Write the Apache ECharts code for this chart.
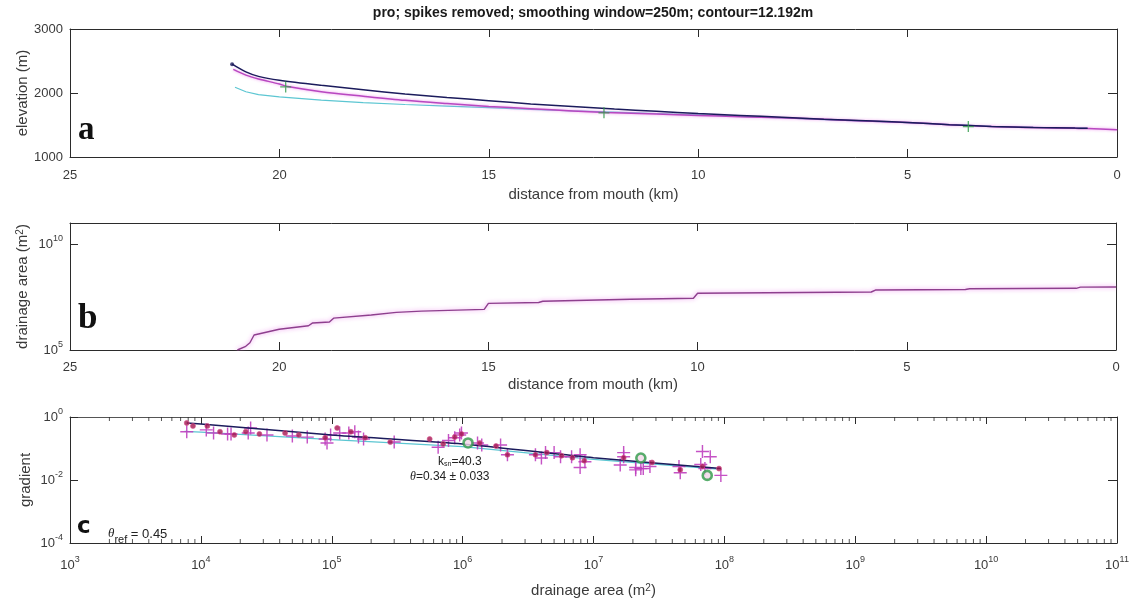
<!DOCTYPE html>
<html>
<head>
    <meta charset="utf-8" />
    <title>pro profile</title>
    <script src="https://cdn.jsdelivr.net/npm/echarts@6/dist/echarts.min.js"></script>
    <style>
        body { margin: 0; background: #fff; }
        #main { width: 1134px; height: 599px; }
    </style>
</head>
<body>
<div id="main"></div>
<script>
    // panel a - elevation vs distance from mouth
    let navyDist = [21.13, 20.8, 20.5, 20, 19, 18, 17, 16, 15, 14, 13, 12, 11, 10, 9, 8, 7, 6, 5, 4, 3, 2, 1, 0.7]
    let navyElev = [2450, 2330, 2260, 2200, 2120, 2050, 1985, 1930, 1880, 1830, 1790, 1750, 1715, 1680, 1650, 1620, 1590, 1565, 1540, 1505, 1478, 1462, 1452, 1450]
    let magDist = [21.1, 20.8, 20.5, 20, 19.8, 19, 18, 17, 16, 15, 14, 13, 12.2, 11, 10, 9, 8, 7, 6, 5, 4, 3, 2, 1, 0.7, 0]
    let magElev = [2370, 2280, 2220, 2140, 2100, 2020, 1950, 1885, 1835, 1790, 1755, 1720, 1695, 1670, 1650, 1630, 1612, 1588, 1563, 1538, 1505, 1475, 1460, 1448, 1444, 1425]
    let cyanDist = [21.06, 20.8, 20.5, 20, 19, 18, 17, 16, 15, 14, 13, 12, 11, 10, 9, 8, 7, 6, 5, 4, 3, 2, 1, 0.72]
    let cyanElev = [2090, 2020, 1975, 1940, 1890, 1850, 1820, 1795, 1770, 1745, 1720, 1700, 1680, 1660, 1635, 1610, 1585, 1560, 1535, 1505, 1480, 1465, 1452, 1450]
    let knickDist = [19.85, 12.25, 3.55]
    let knickElev = [2095, 1690, 1475]

    // panel b - drainage area vs distance
    let areaDist = [21.0, 20.8, 20.7, 20.6, 20.0, 19.3, 19.2, 18.8, 18.7, 17.8, 17.2, 16.6, 15.1, 15.0, 13.8, 13.7, 11.6, 10.1, 10.0, 5.85, 5.75, 3.6, 3.5, 0.95, 0.85, 0]
    let areaVal = [1.0e5, 1.5e5, 2.2e5, 5.1e5, 9.5e5, 1.4e6, 1.9e6, 2.1e6, 3.2e6, 4.5e6, 6.0e6, 6.9e6, 8.3e6, 1.6e7, 1.75e7, 2.0e7, 2.5e7, 2.8e7, 4.8e7, 5.5e7, 6.8e7, 7.2e7, 7.8e7, 8.2e7, 9.3e7, 9.5e7]

    // panel c - slope-area
    let fitArea = [7.8e3, 1e4, 1e5, 1e6, 1e7, 9.4e7]
    let fitGrad = [0.65, 0.6, 0.27, 0.14, 0.051, 0.023]
    let refArea = [7.5e3, 1e4, 1e5, 1e6, 1e7, 9e7]
    let refGrad = [0.35, 0.33, 0.19, 0.115, 0.045, 0.022]
    let binArea = [7.8e3, 8.7e3, 1.12e4, 1.4e4, 1.8e4, 2.2e4, 2.8e4, 4.4e4, 5.6e4, 8.9e4, 1.1e5, 1.4e5, 1.8e5, 2.8e5, 5.6e5, 7.1e5, 8.7e5, 9.8e5, 1.35e6, 1.8e6, 2.2e6, 3.6e6, 4.4e6, 5.7e6, 6.9e6, 8.5e6, 1.7e7, 2.8e7, 4.6e7, 6.8e7, 9.1e7]
    let binGrad = [0.65, 0.52, 0.52, 0.34, 0.27, 0.34, 0.29, 0.31, 0.27, 0.22, 0.45, 0.34, 0.22, 0.16, 0.2, 0.14, 0.23, 0.29, 0.15, 0.12, 0.063, 0.063, 0.074, 0.059, 0.051, 0.041, 0.051, 0.036, 0.021, 0.027, 0.023]
    let rawArea = [7.8e3, 1.1e4, 1.25e4, 1.6e4, 1.7e4, 2.3e4, 2.4e4, 3.2e4, 5e4, 6.5e4, 8.9e4, 9.2e4, 9.8e4, 1.15e5, 1.35e5, 1.5e5, 1.6e5, 1.75e5, 3.0e5,
        6.5e5, 7.8e5, 8.7e5, 9.5e5, 9.8e5, 1.3e6, 1.4e6, 1.95e6, 2.2e6, 3.6e6, 4e6, 4.3e6, 5e6, 5.6e6, 6.8e6, 7.9e6, 7.9e6, 8.6e6,
        1.7e7, 2.1e7, 2.3e7, 1.7e7, 1.6e7, 2.1e7, 2.4e7, 2.7e7, 4.5e7, 4.6e7, 6.8e7, 7.8e7, 6.6e7, 7.1e7, 9.4e7]
    let rawGrad = [0.34, 0.39, 0.31, 0.29, 0.29, 0.31, 0.45, 0.27, 0.25, 0.23, 0.2, 0.15, 0.27, 0.31, 0.31, 0.34, 0.23, 0.2, 0.16,
        0.11, 0.18, 0.22, 0.27, 0.31, 0.15, 0.13, 0.13, 0.063, 0.063, 0.05, 0.074, 0.074, 0.055, 0.055, 0.063, 0.025, 0.038,
        0.055, 0.025, 0.023, 0.074, 0.03, 0.021, 0.023, 0.027, 0.027, 0.017, 0.08, 0.055, 0.031, 0.023, 0.014]
    let knickArea = [1.1e6, 2.3e7, 7.4e7]
    let knickGrad = [0.15, 0.05, 0.014]

    let areaTicks = [1e5, 1e10]
    let saXTicks = [1e3, 1e4, 1e5, 1e6, 1e7, 1e8, 1e9, 1e10, 1e11]
    let saYTicks = [1e-4, 1e-2, 1]

    let fontMain = 'Liberation Sans, Arial, sans-serif'
    let colAxis = '#2b2b2b'
    let colText = '#3a3a3a'
    let colNavy = '#1b1b5c'
    let colMag = '#b848c0'
    let colCyan = '#5cc6d2'
    let colGreen = '#2f9a48'
    let colPlus = '#bf3fbf'
    let colDot = '#a3164f'

    const pairs = (xs, ys) => xs.map((x, i) => [x, ys[i]])

    const powLabel = (v) => '10{sup|' + Math.round(Math.log10(v)) + '}'

    let minorVals = []
    for (let e = 3; e < 11; e++) {
        for (let m = 2; m <= 9; m++) {
            minorVals.push(m * Math.pow(10, e))
        }
    }

    const lineAxis = (color) => ({ show: true, onZero: false, lineStyle: { color: color, width: 1 } })

    const baseLabel = {
        color: colText,
        fontFamily: fontMain,
        fontSize: 13,
    }
    const supLabel = {
        color: colText,
        fontFamily: fontMain,
        fontSize: 13,
        lineHeight: 20,
        rich: {
            sup: { fontSize: 9, verticalAlign: 'top', lineHeight: 9, color: colText, fontFamily: fontMain }
        }
    }
    const nameStyle = {
        color: colText,
        fontFamily: fontMain,
        fontSize: 15,
        rich: {
            sup: { fontSize: 10, verticalAlign: 'top', lineHeight: 10, color: colText, fontFamily: fontMain }
        }
    }

    const distAxis = (gridIndex, pos, withLabel, gap, margin) => ({
        type: 'value',
        gridIndex: gridIndex,
        position: pos,
        min: 0,
        max: 25,
        interval: 5,
        inverse: true,
        name: withLabel ? 'distance from mouth (km)' : '',
        nameLocation: 'middle',
        nameGap: gap,
        nameMoveOverlap: false,
        nameTextStyle: nameStyle,
        axisLine: lineAxis(colAxis),
        axisTick: { show: true, inside: true, length: 8, lineStyle: { color: colAxis } },
        axisLabel: Object.assign({ show: withLabel, margin: margin }, baseLabel),
        splitLine: { show: false },
    })

    let chart = echarts.init(document.getElementById('main'), null, { renderer: 'canvas' })

    chart.setOption({
        animation: false,
        backgroundColor: '#fff',
        grid: [
            { left: 70, top: 29, width: 1047, height: 128 },
            { left: 70, top: 223, width: 1046, height: 127 },
            { left: 70, top: 417, width: 1047, height: 127 },
        ],
        xAxis: [
            distAxis(0, 'bottom', true, 30, 12),
            distAxis(0, 'top', false, 0, 0),
            distAxis(1, 'bottom', true, 27, 11),
            distAxis(1, 'top', false, 0, 0),
            {
                type: 'log', logBase: 10, gridIndex: 2, position: 'bottom', min: 1e3, max: 1e11,
                name: 'drainage area (m{sup|2})', nameLocation: 'middle', nameGap: 40, nameMoveOverlap: false, nameTextStyle: nameStyle,
                axisLine: lineAxis(colAxis),
                axisTick: { show: true, inside: true, length: 7, customValues: saXTicks, lineStyle: { color: colAxis } },
                axisLabel: Object.assign({ margin: 12, customValues: saXTicks, formatter: powLabel }, supLabel),
                splitLine: { show: false },
            },
            {
                type: 'log', logBase: 10, gridIndex: 2, position: 'top', min: 1e3, max: 1e11,
                axisLine: lineAxis('#555'),
                axisTick: { show: true, inside: true, length: 7, customValues: saXTicks, lineStyle: { color: colAxis } },
                axisLabel: { show: false },
                splitLine: { show: false },
            },
        ],
        yAxis: [
            {
                type: 'value', gridIndex: 0, position: 'left', min: 1000, max: 3000, interval: 1000,
                name: 'elevation (m)', nameLocation: 'middle', nameGap: 40, nameMoveOverlap: false, nameTextStyle: nameStyle,
                axisLine: lineAxis(colAxis),
                axisTick: { show: true, inside: true, length: 8, lineStyle: { color: colAxis } },
                axisLabel: Object.assign({ margin: 7, formatter: (v) => String(v) }, baseLabel),
                splitLine: { show: false },
            },
            {
                type: 'value', gridIndex: 0, position: 'right', min: 1000, max: 3000, interval: 1000,
                axisLine: lineAxis(colAxis),
                axisTick: { show: true, inside: true, length: 9, lineStyle: { color: colAxis } },
                axisLabel: { show: false },
                splitLine: { show: false },
            },
            {
                type: 'log', logBase: 10, gridIndex: 1, position: 'left', min: 1e5, max: 1e11,
                name: 'drainage area (m{sup|2})', nameLocation: 'middle', nameGap: 40, nameMoveOverlap: false, nameTextStyle: nameStyle,
                axisLine: lineAxis(colAxis),
                axisTick: { show: true, inside: true, length: 8, customValues: areaTicks, lineStyle: { color: colAxis } },
                axisLabel: Object.assign({ margin: 7, customValues: areaTicks, formatter: powLabel }, supLabel),
                splitLine: { show: false },
            },
            {
                type: 'log', logBase: 10, gridIndex: 1, position: 'right', min: 1e5, max: 1e11,
                axisLine: lineAxis(colAxis),
                axisTick: { show: true, inside: true, length: 9, customValues: areaTicks, lineStyle: { color: colAxis } },
                axisLabel: { show: false },
                splitLine: { show: false },
            },
            {
                type: 'log', logBase: 10, gridIndex: 2, position: 'left', min: 1e-4, max: 1,
                name: 'gradient', nameLocation: 'middle', nameGap: 37, nameMoveOverlap: false, nameTextStyle: nameStyle,
                axisLine: lineAxis(colAxis),
                axisTick: { show: true, inside: true, length: 8, customValues: saYTicks, lineStyle: { color: colAxis } },
                axisLabel: Object.assign({ margin: 7, customValues: saYTicks, formatter: powLabel }, supLabel),
                splitLine: { show: false },
            },
            {
                type: 'log', logBase: 10, gridIndex: 2, position: 'right', min: 1e-4, max: 1,
                axisLine: lineAxis(colAxis),
                axisTick: { show: true, inside: true, length: 9, customValues: saYTicks, lineStyle: { color: colAxis } },
                axisLabel: { show: false },
                splitLine: { show: false },
            },
        ],
        series: [
            // panel a
            {
                type: 'line', xAxisIndex: 0, yAxisIndex: 0, data: pairs(cyanDist, cyanElev),
                showSymbol: false, lineStyle: { color: colCyan, width: 1.2 }, z: 2,
            },
            {
                type: 'line', xAxisIndex: 0, yAxisIndex: 0, data: pairs(magDist, magElev),
                showSymbol: false, smooth: 0.3,
                lineStyle: { color: colMag, width: 1.5, shadowColor: 'rgba(235,130,235,0.9)', shadowBlur: 3 }, z: 3,
            },
            {
                type: 'line', xAxisIndex: 0, yAxisIndex: 0, data: pairs(navyDist, navyElev),
                showSymbol: false, smooth: 0.3, lineStyle: { color: colNavy, width: 1.5 }, z: 4,
            },
            {
                type: 'scatter', xAxisIndex: 0, yAxisIndex: 0, data: [[navyDist[0], navyElev[0]]],
                symbol: 'circle', symbolSize: 4, itemStyle: { color: colNavy }, z: 5,
            },
            {
                type: 'scatter', xAxisIndex: 0, yAxisIndex: 0, data: pairs(knickDist, knickElev),
                symbol: 'path://M4.4,0 H5.6 V4.4 H10 V5.6 H5.6 V10 H4.4 V5.6 H0 V4.4 H4.4 Z',
                symbolSize: 11, itemStyle: { color: colGreen }, z: 6,
            },
            // panel b
            {
                type: 'line', xAxisIndex: 2, yAxisIndex: 2, data: pairs(areaDist, areaVal),
                showSymbol: false,
                lineStyle: { color: '#8e3f8e', width: 1.4, shadowColor: 'rgba(235,130,235,0.95)', shadowBlur: 4 },
            },
            // panel c
            {
                type: 'line', xAxisIndex: 4, yAxisIndex: 4, data: pairs(refArea, refGrad),
                showSymbol: false, lineStyle: { color: colCyan, width: 1.2 }, z: 2,
            },
            {
                type: 'scatter', xAxisIndex: 4, yAxisIndex: 4, data: pairs(rawArea, rawGrad),
                symbol: 'path://M4.45,0 H5.55 V4.45 H10 V5.55 H5.55 V10 H4.45 V5.55 H0 V4.45 H4.45 Z',
                symbolSize: 13, itemStyle: { color: colPlus, opacity: 0.9 }, z: 3,
            },
            {
                type: 'line', xAxisIndex: 4, yAxisIndex: 4, data: pairs(fitArea, fitGrad),
                showSymbol: false, smooth: 0.2, lineStyle: { color: colNavy, width: 1.5 }, z: 4,
            },
            {
                type: 'scatter', xAxisIndex: 4, yAxisIndex: 4, data: pairs(binArea, binGrad),
                symbol: 'circle', symbolSize: 5,
                itemStyle: { color: colDot, borderColor: '#d8508e', borderWidth: 0.8 }, z: 5,
            },
            {
                type: 'scatter', xAxisIndex: 4, yAxisIndex: 4, data: pairs(knickArea, knickGrad),
                symbol: 'circle', symbolSize: 9,
                itemStyle: { color: '#f2d6e8', borderColor: colGreen, borderWidth: 2.6 }, z: 6,
            },
            // minor ticks of the log area axis (top and bottom)
            {
                type: 'scatter', xAxisIndex: 5, yAxisIndex: 5, silent: true, clip: false,
                data: minorVals.map(v => [v, 1]),
                symbol: 'rect', symbolSize: [1, 4], symbolOffset: [0, 2], itemStyle: { color: colAxis },
            },
            {
                type: 'scatter', xAxisIndex: 5, yAxisIndex: 5, silent: true, clip: false,
                data: minorVals.map(v => [v, 1e-4]),
                symbol: 'rect', symbolSize: [1, 4], symbolOffset: [0, -2], itemStyle: { color: colAxis },
            },
        ],
        graphic: [
            {
                type: 'text', x: 593, y: 13,
                style: {
                    text: 'pro; spikes removed; smoothing window=250m; contour=12.192m',
                    font: 'bold 14px Liberation Sans, Arial, sans-serif', fill: '#1a1a1a',
                    align: 'center', verticalAlign: 'middle',
                }
            },
            {
                type: 'text', x: 78, y: 130,
                style: { text: 'a', font: 'bold 33px Liberation Serif, DejaVu Serif, serif', fill: '#111', verticalAlign: 'middle' }
            },
            {
                type: 'text', x: 78, y: 319,
                style: { text: 'b', font: 'bold 35px Liberation Serif, DejaVu Serif, serif', fill: '#111', verticalAlign: 'middle' }
            },
            {
                type: 'text', x: 77, y: 527,
                style: { text: 'c', font: 'bold 23px DejaVu Sans, sans-serif', fill: '#111', verticalAlign: 'middle' }
            },
            {
                type: 'text', x: 108, y: 534,
                style: {
                    text: '{it|θ}{sub|ref}{n| = 0.45}',
                    font: '13px Liberation Sans, Arial, sans-serif', fill: '#222', verticalAlign: 'middle',
                    rich: {
                        it: { font: 'italic 13px Liberation Serif, serif', fill: '#222', lineHeight: 22 },
                        sub: { font: '11px Liberation Sans, Arial, sans-serif', fill: '#222', verticalAlign: 'bottom', lineHeight: 10 },
                        n: { font: '13px Liberation Sans, Arial, sans-serif', fill: '#222', lineHeight: 22 },
                    }
                }
            },
            {
                type: 'text', x: 438, y: 462,
                style: {
                    text: 'k{sub|sn}=40.3',
                    font: '12px Liberation Sans, Arial, sans-serif', fill: '#222', verticalAlign: 'middle',
                    rich: {
                        sub: { font: '7px Liberation Sans, Arial, sans-serif', fill: '#222', verticalAlign: 'bottom', lineHeight: 7 },
                    }
                }
            },
            {
                type: 'text', x: 410, y: 477,
                style: {
                    text: '{it|θ}=0.34 ± 0.033',
                    font: '12px Liberation Sans, Arial, sans-serif', fill: '#222', verticalAlign: 'middle',
                    rich: {
                        it: { font: 'italic 12px Liberation Serif, serif', fill: '#222' },
                    }
                }
            },
        ],
    })
</script>
</body>
</html>
